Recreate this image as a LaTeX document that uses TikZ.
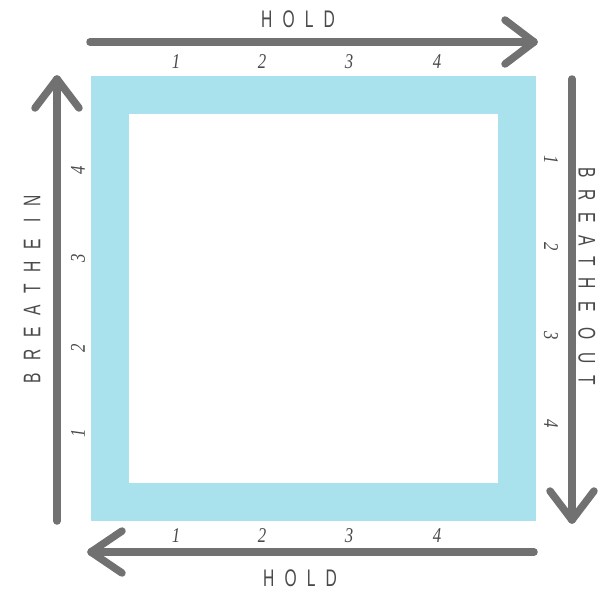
\documentclass[tikz,border=0pt]{standalone}
\usepackage{fontspec}
\usetikzlibrary{calc}
\setmainfont{Liberation Sans}
\newfontfamily\labelfont[LetterSpace=42,FakeStretch=0.65]{Liberation Sans}
\newfontfamily\vlabelfont[LetterSpace=50,FakeStretch=0.65]{Liberation Sans}
\newfontfamily\numfont[FakeStretch=0.8]{Liberation Serif}
\definecolor{sqblue}{HTML}{A9E1EC}
\definecolor{arrgray}{HTML}{717171}
\definecolor{txtgray}{HTML}{4A4A4A}
\tikzset{
  arrowline/.style={draw=arrgray, line width=7.5pt, line cap=round, line join=round},
  word/.style={text=txtgray, font=\labelfont\fontsize{24}{24}\selectfont, inner sep=0pt},
  vword/.style={text=txtgray, font=\vlabelfont\fontsize{24}{24}\selectfont, inner sep=0pt},
  num/.style={text=txtgray, font=\numfont\itshape\fontsize{21}{21}\selectfont, inner sep=0pt}
}
\begin{document}
\begin{tikzpicture}[x=1pt,y=-1pt]
\useasboundingbox (0,0) rectangle (600,592);
% square
\fill[sqblue] (91,76) rectangle (536,521);
\fill[white] (129,114) rectangle (498,483);
% coordinates
\coordinate (ts) at (90,42);  \coordinate (tt) at (534,42);
\coordinate (ls) at (57,521); \coordinate (lt) at (57,79);
\coordinate (rs) at (572,79); \coordinate (rt) at (572,520);
\coordinate (bs) at (534,552); \coordinate (bt) at (91,552);
% arrows
\draw[arrowline] (ts) -- (tt);
\draw[arrowline] ($(tt)+(-29,-22)$) -- (tt) -- ($(tt)+(-29,22)$);
\draw[arrowline] (ls) -- (lt);
\draw[arrowline] ($(lt)+(-22,29)$) -- (lt) -- ($(lt)+(22,29)$);
\draw[arrowline] (rs) -- (rt);
\draw[arrowline] ($(rt)+(-22,-29)$) -- (rt) -- ($(rt)+(22,-29)$);
\draw[arrowline] (bs) -- (bt);
\draw[arrowline] ($(bt)+(31,-21)$) -- (bt) -- ($(bt)+(31,21)$);
% words
\node[word] (holdtop) at (298,19) {HOLD};
\node[word] (holdbot) at (300,578) {HOLD};
\node[vword, rotate=90] (bin) at (32,289) {BREATHE IN};
\node[vword, rotate=-90] (bout) at (587,276) {BREATHE OUT};
% numbers
\foreach \n/\x in {1/176,2/262,3/349,4/437}{
  \node[num] (t\n) at (\x,62) {\n};
  \node[num] (b\n) at (\x,536) {\n};
}
\foreach \n/\y in {4/170,3/258,2/348,1/433}{
  \node[num, rotate=90] (l\n) at (78,\y) {\n};
}
\foreach \n/\y in {1/160,2/247,3/336,4/424}{
  \node[num, rotate=-90] (r\n) at (551,\y) {\n};
}
\end{tikzpicture}
\end{document}
